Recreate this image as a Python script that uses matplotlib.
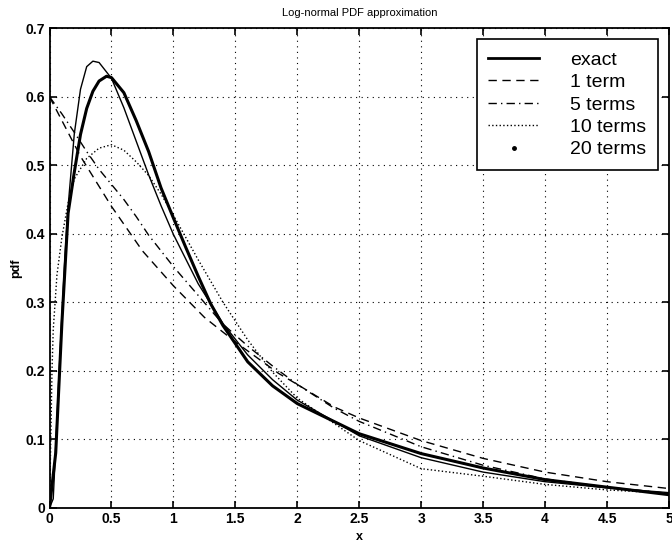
import numpy as np
import matplotlib.pyplot as plt
from matplotlib.lines import Line2D

# values
x_exact = [0, 0.03, 0.05, 0.075, 0.1, 0.125, 0.15, 0.2, 0.25, 0.3, 0.35, 0.4, 0.5, 0.6, 0.7, 0.8, 0.9,
           1.0, 1.2, 1.4, 1.6, 1.8, 2.0, 2.5, 3.0, 3.5, 4.0, 4.5, 5.0]
y_exact = [0, 0.013, 0.090, 0.190, 0.282, 0.368, 0.440, 0.546, 0.611, 0.644, 0.652, 0.650, 0.627, 0.584,
           0.535, 0.486, 0.441, 0.399, 0.327, 0.269, 0.223, 0.187, 0.157, 0.105, 0.073, 0.052, 0.038,
           0.029, 0.022]

x_1term = [0, 0.25, 0.5, 0.75, 1.0, 1.25, 1.5, 1.85, 2.0, 2.3, 2.5, 3.0, 3.5, 4.0, 4.5, 5.0]
y_1term = [0.600, 0.513, 0.440, 0.375, 0.324, 0.278, 0.242, 0.196, 0.180, 0.147, 0.131, 0.098, 0.072,
           0.052, 0.038, 0.028]

x_5terms = [0, 0.1, 0.2, 0.3, 0.4, 0.5, 0.6, 0.7, 0.8, 0.9, 1.0, 1.2, 1.4, 1.6, 1.8, 2.0, 2.3, 2.5,
            3.0, 3.5, 4.0, 4.5, 5.0]
y_5terms = [0.600, 0.575, 0.548, 0.520, 0.494, 0.472, 0.450, 0.425, 0.398, 0.375, 0.352, 0.310, 0.268,
            0.236, 0.207, 0.180, 0.145, 0.126, 0.089, 0.062, 0.042, 0.030, 0.021]

x_10terms = [0, 0.01, 0.02, 0.03, 0.06, 0.1, 0.15, 0.2, 0.3, 0.4, 0.5, 0.6, 0.7, 0.8, 0.9, 1.0, 1.2, 1.4,
             1.6, 1.8, 2.0, 2.5, 3.0, 3.5, 4.0, 4.5, 5.0]
y_10terms = [0.0, 0.10, 0.20, 0.26, 0.34, 0.395, 0.445, 0.48, 0.51, 0.525, 0.530, 0.522, 0.505, 0.485,
             0.458, 0.427, 0.362, 0.300, 0.245, 0.198, 0.160, 0.098, 0.057, 0.046, 0.034, 0.026, 0.021]

x_20terms = [0, 0.05, 0.1, 0.15, 0.2, 0.25, 0.3, 0.35, 0.4, 0.46, 0.5, 0.6, 0.7, 0.8, 0.9, 1.0, 1.1, 1.2,
             1.3, 1.4, 1.6, 1.8, 2.0, 2.5, 3.0, 3.5, 4.0, 4.5, 5.0]
y_20terms = [0, 0.08, 0.27, 0.43, 0.49, 0.545, 0.583, 0.608, 0.623, 0.630, 0.628, 0.606, 0.565, 0.520,
             0.467, 0.423, 0.380, 0.338, 0.298, 0.266, 0.213, 0.178, 0.152, 0.108, 0.079, 0.058, 0.041,
             0.030, 0.019]

plt.rcParams['font.family'] = ['Liberation Sans', 'DejaVu Sans']

fig = plt.figure(figsize=(6.72, 5.44), dpi=100)
ax = fig.add_axes([0.0737, 0.0667, 0.9218, 0.8813])

ax.plot(x_exact, y_exact, 'k-', linewidth=1.0)
ax.plot(x_1term, y_1term, 'k--', linewidth=1.0, dashes=(6, 4))
ax.plot(x_5terms, y_5terms, 'k-.', linewidth=1.0, dashes=(6, 3, 1, 3))
ax.plot(x_10terms, y_10terms, 'k:', linewidth=1.0)
ax.plot(x_20terms, y_20terms, 'k-', linewidth=2.2)

ax.set_xlim(0, 5)
ax.set_ylim(0, 0.7)
ax.set_xticks(np.arange(0, 5.01, 0.5))
ax.set_yticks(np.arange(0, 0.71, 0.1))
ax.set_xticklabels(['0', '0.5', '1', '1.5', '2', '2.5', '3', '3.5', '4', '4.5', '5'], fontweight='bold')
ax.set_yticklabels(['0', '0.1', '0.2', '0.3', '0.4', '0.5', '0.6', '0.7'], fontweight='bold')
ax.tick_params(direction='in', top=True, right=True, labelsize=10, length=5, width=1.2, pad=3)
ax.grid(True, color='k', linestyle=(0, (1, 4)), linewidth=0.8)
for s in ax.spines.values():
    s.set_linewidth(1.3)

ax.set_title('Log-normal PDF approximation', fontsize=8, pad=9)
ax.set_xlabel('x', fontsize=9, fontweight='bold', labelpad=4)
ax.set_ylabel('pdf', fontsize=9, fontweight='bold', labelpad=2.5)

handles = [
    Line2D([], [], color='k', linewidth=2.0),
    Line2D([], [], color='k', linewidth=1.0, linestyle='--', dashes=(6, 4)),
    Line2D([], [], color='k', linewidth=1.0, dashes=(6, 3, 1, 3)),
    Line2D([], [], color='k', linewidth=1.0, linestyle=':'),
    Line2D([], [], color='k', linestyle='none', marker='.', markersize=5),
]
labels = ['exact', '1 term', '5 terms', '10 terms', '20 terms']
leg = ax.legend(handles, labels, loc='upper right', bbox_to_anchor=(0.982, 0.977), fontsize=14,
                fancybox=False, edgecolor='k', framealpha=1, handlelength=2.6, handletextpad=1.6,
                borderpad=0.6, labelspacing=0.25, borderaxespad=0)
leg.get_frame().set_linewidth(1.2)

fig.savefig('out.png', dpi=100)
